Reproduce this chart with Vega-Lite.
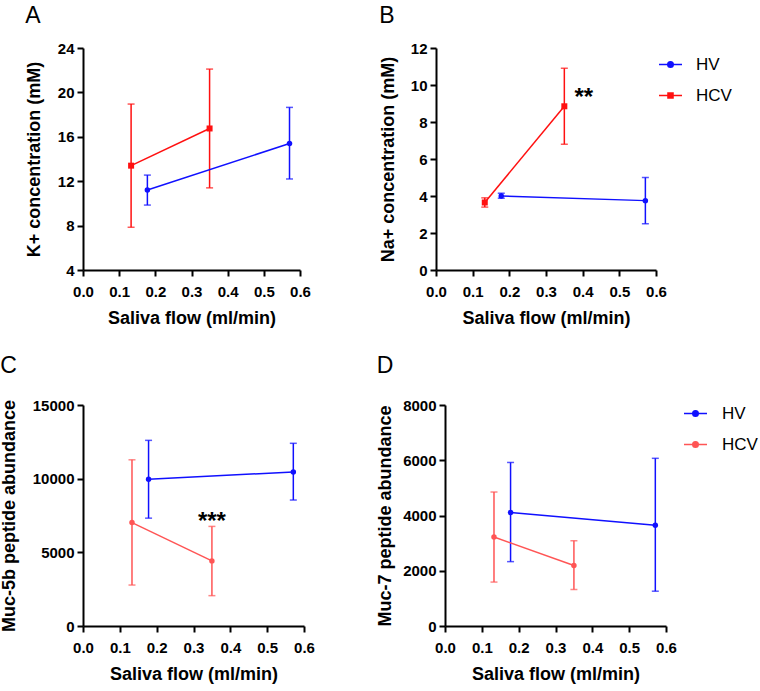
{
  "$schema": "https://vega.github.io/schema/vega-lite/v6.json",
  "background": "white",
  "padding": {"left": 0, "top": 5, "right": 5, "bottom": 5},
  "config": {
    "font": "Liberation Sans",
    "view": {"stroke": null},
    "scale": {"continuousPadding": 0},
    "axis": {"domainColor": "black", "domainWidth": 2, "tickColor": "black", "tickWidth": 2, "tickSize": 6, "labelFont": "Liberation Sans", "labelFontWeight": "bold", "labelFontSize": 15, "labelColor": "black", "labelPadding": 3, "labelOverlap": false, "labelFlush": false, "titleFont": "Liberation Sans", "titleFontSize": 18, "titleFontWeight": "bold", "titleColor": "black", "grid": false, "titlePadding": 16},
    "axisX": {"labelPadding": 8, "titlePadding": 10},
    "title": {"fontSize": 23, "fontWeight": "normal", "anchor": "start", "frame": "bounds", "font": "Liberation Sans", "color": "black", "offset": 13},
    "legend": {"labelFont": "Liberation Sans", "labelFontSize": 17, "labelColor": "black"}
  },
  "spacing": 28,
  "resolve": {"scale": {"color": "independent", "fill": "independent", "stroke": "independent", "shape": "independent"}, "legend": {"color": "independent", "fill": "independent", "stroke": "independent", "shape": "independent"}},
  "vconcat": [
    {
      "spacing": 68,
      "resolve": {"scale": {"color": "independent", "fill": "independent", "stroke": "independent", "shape": "independent"}, "legend": {"color": "independent", "fill": "independent", "stroke": "independent", "shape": "independent"}},
      "hconcat": [
        {
          "width": 217, "height": 222,
          "title": {"text": "A"},
          "data": {"values": [
            {"group": "HV", "flow": 0.178, "mean": 11.2, "lo": 9.85, "hi": 12.55},
            {"group": "HV", "flow": 0.571, "mean": 15.4, "lo": 12.2, "hi": 18.65},
            {"group": "HCV", "flow": 0.133, "mean": 13.4, "lo": 7.85, "hi": 18.95},
            {"group": "HCV", "flow": 0.35, "mean": 16.75, "lo": 11.4, "hi": 22.1}
          ]},
          "encoding": {
            "x": {"field": "flow", "type": "quantitative", "scale": {"domain": [0, 0.6], "nice": false, "padding": 0}, "axis": {"values": [0, 0.1, 0.2, 0.3, 0.4, 0.5, 0.6], "format": ".1f", "title": "Saliva flow (ml/min)"}},
            "color": {"field": "group", "type": "nominal", "scale": {"range": ["#ff1010", "#1010ff"]}, "legend": null}
          },
          "layer": [
            {"mark": {"type": "errorbar", "ticks": {"size": 7}, "thickness": 1.5}, "encoding": {"y": {"field": "lo", "type": "quantitative", "scale": {"domain": [4, 24], "nice": false}, "axis": {"values": [4, 8, 12, 16, 20, 24], "title": "K+ concentration (mM)", "titlePadding": 14}}, "y2": {"field": "hi"}}},
            {"mark": {"type": "line", "strokeWidth": 1.5}, "encoding": {"y": {"field": "mean", "type": "quantitative", "axis": {"values": [4, 8, 12, 16, 20, 24], "title": "K+ concentration (mM)", "titlePadding": 14}}}},
            {"transform": [{"filter": "datum.group === 'HV'"}], "mark": {"type": "point", "filled": true, "opacity": 1, "shape": "circle", "size": 30}, "encoding": {"y": {"field": "mean", "type": "quantitative", "axis": {"values": [4, 8, 12, 16, 20, 24], "title": "K+ concentration (mM)", "titlePadding": 14}}}},
            {"transform": [{"filter": "datum.group === 'HCV'"}], "mark": {"type": "point", "filled": true, "opacity": 1, "shape": "square", "size": 36}, "encoding": {"y": {"field": "mean", "type": "quantitative", "axis": {"values": [4, 8, 12, 16, 20, 24], "title": "K+ concentration (mM)", "titlePadding": 14}}}}
          ]
        },
        {
          "width": 220, "height": 222,
          "title": {"text": "B"},
          "data": {"values": [
            {"group": "HV", "flow": 0.178, "mean": 4.0, "lo": 3.88, "hi": 4.15},
            {"group": "HV", "flow": 0.571, "mean": 3.75, "lo": 2.5, "hi": 5.0},
            {"group": "HCV", "flow": 0.133, "mean": 3.65, "lo": 3.4, "hi": 3.9},
            {"group": "HCV", "flow": 0.35, "mean": 8.85, "lo": 6.8, "hi": 10.9}
          ]},
          "encoding": {
            "x": {"field": "flow", "type": "quantitative", "scale": {"domain": [0, 0.6], "nice": false, "padding": 0}, "axis": {"values": [0, 0.1, 0.2, 0.3, 0.4, 0.5, 0.6], "format": ".1f", "title": "Saliva flow (ml/min)"}}
          },
          "layer": [
            {"mark": {"type": "errorbar", "ticks": {"size": 7}, "thickness": 1.5}, "encoding": {"y": {"field": "lo", "type": "quantitative", "scale": {"domain": [0, 12], "nice": false}, "axis": {"values": [0, 2, 4, 6, 8, 10, 12], "title": "Na+ concentration (mM)", "titlePadding": 13}}, "y2": {"field": "hi"}, "color": {"field": "group", "type": "nominal", "scale": {"range": ["#ff1010", "#1010ff"]}, "legend": null}}},
            {"mark": {"type": "line", "strokeWidth": 1.5}, "encoding": {"y": {"field": "mean", "type": "quantitative", "axis": {"values": [0, 2, 4, 6, 8, 10, 12], "title": "Na+ concentration (mM)", "titlePadding": 13}}, "color": {"field": "group", "type": "nominal", "legend": null}}},
            {"transform": [{"filter": "datum.group === 'HV'"}], "mark": {"type": "point", "filled": true, "opacity": 1, "shape": "circle", "size": 30}, "encoding": {"y": {"field": "mean", "type": "quantitative", "axis": {"values": [0, 2, 4, 6, 8, 10, 12], "title": "Na+ concentration (mM)", "titlePadding": 13}}, "color": {"field": "group", "type": "nominal", "legend": null}}},
            {"transform": [{"filter": "datum.group === 'HCV'"}], "mark": {"type": "point", "filled": true, "opacity": 1, "shape": "square", "size": 36}, "encoding": {"y": {"field": "mean", "type": "quantitative", "axis": {"values": [0, 2, 4, 6, 8, 10, 12], "title": "Na+ concentration (mM)", "titlePadding": 13}}, "color": {"field": "group", "type": "nominal", "legend": null}}},
            {"mark": {"type": "point", "filled": true, "opacity": 0, "strokeWidth": 1.5},
             "encoding": {
               "y": {"field": "mean", "type": "quantitative", "axis": {"values": [0, 2, 4, 6, 8, 10, 12], "title": "Na+ concentration (mM)", "titlePadding": 13}},
               "fill": {"field": "group", "type": "nominal", "scale": {"domain": ["HV", "HCV"], "range": ["#1010ff", "#ff1010"]}, "legend": {"orient": "none", "legendX": 222, "legendY": 4, "title": null, "symbolSize": 529, "symbolStrokeWidth": 1.5, "symbolOpacity": 1, "rowPadding": 10, "labelOffset": 13}},
               "stroke": {"field": "group", "type": "nominal", "scale": {"domain": ["HV", "HCV"], "range": ["#1010ff", "#ff1010"]}, "legend": {"orient": "none", "legendX": 222, "legendY": 4, "title": null, "symbolSize": 529, "symbolStrokeWidth": 1.5, "symbolOpacity": 1, "rowPadding": 10, "labelOffset": 13}},
               "shape": {"field": "group", "type": "nominal", "scale": {"domain": ["HV", "HCV"], "range": ["M-1,0H1M-0.24,0A0.24,0.24 0 1,0 0.24,0A0.24,0.24 0 1,0 -0.24,0Z", "M-1,0H1M-0.22,-0.22H0.22V0.22H-0.22Z"]}, "legend": {"orient": "none", "legendX": 222, "legendY": 4, "title": null, "symbolSize": 529, "symbolStrokeWidth": 1.5, "symbolOpacity": 1, "rowPadding": 10, "labelOffset": 13}}
             }},
            {"data": {"values": [{"flow": 0.403, "val": 8.93, "label": "**"}]}, "mark": {"type": "text", "fontSize": 24, "fontWeight": "bold", "color": "black", "baseline": "alphabetic"}, "encoding": {"y": {"field": "val", "type": "quantitative", "axis": {"values": [0, 2, 4, 6, 8, 10, 12], "title": "Na+ concentration (mM)", "titlePadding": 13}}, "text": {"field": "label"}}}
          ]
        }
      ]
    },
    {
      "spacing": 61,
      "resolve": {"scale": {"color": "independent", "fill": "independent", "stroke": "independent", "shape": "independent"}, "legend": {"color": "independent", "fill": "independent", "stroke": "independent", "shape": "independent"}},
      "hconcat": [
        {
          "width": 221, "height": 221,
          "title": {"text": "C", "offset": 20},
          "data": {"values": [
            {"group": "HV", "flow": 0.178, "mean": 9960, "lo": 7320, "hi": 12600},
            {"group": "HV", "flow": 0.571, "mean": 10460, "lo": 8550, "hi": 12400},
            {"group": "HCV", "flow": 0.133, "mean": 7020, "lo": 2780, "hi": 11280},
            {"group": "HCV", "flow": 0.35, "mean": 4420, "lo": 2060, "hi": 6760}
          ]},
          "encoding": {
            "x": {"field": "flow", "type": "quantitative", "scale": {"domain": [0, 0.6], "nice": false, "padding": 0}, "axis": {"values": [0, 0.1, 0.2, 0.3, 0.4, 0.5, 0.6], "format": ".1f", "title": "Saliva flow (ml/min)"}}
          },
          "layer": [
            {"mark": {"type": "errorbar", "ticks": {"size": 7}, "thickness": 1.5}, "encoding": {"y": {"field": "lo", "type": "quantitative", "scale": {"domain": [0, 15000], "nice": false}, "axis": {"values": [0, 5000, 10000, 15000], "format": "d", "title": "Muc-5b peptide abundance", "titlePadding": 14}}, "y2": {"field": "hi"}, "color": {"field": "group", "type": "nominal", "scale": {"range": ["#ff5555", "#1010ff"]}, "legend": null}}},
            {"mark": {"type": "line", "strokeWidth": 1.5}, "encoding": {"y": {"field": "mean", "type": "quantitative", "axis": {"values": [0, 5000, 10000, 15000], "format": "d", "title": "Muc-5b peptide abundance", "titlePadding": 14}}, "color": {"field": "group", "type": "nominal", "legend": null}}},
            {"mark": {"type": "point", "filled": true, "opacity": 1, "shape": "circle", "size": 30}, "encoding": {"y": {"field": "mean", "type": "quantitative", "axis": {"values": [0, 5000, 10000, 15000], "format": "d", "title": "Muc-5b peptide abundance", "titlePadding": 14}}, "color": {"field": "group", "type": "nominal", "legend": null}}},
            {"data": {"values": [{"flow": 0.35, "val": 6570, "label": "***"}]}, "mark": {"type": "text", "fontSize": 24, "fontWeight": "bold", "color": "black", "baseline": "alphabetic"}, "encoding": {"y": {"field": "val", "type": "quantitative", "axis": {"values": [0, 5000, 10000, 15000], "format": "d", "title": "Muc-5b peptide abundance", "titlePadding": 14}}, "text": {"field": "label"}}}
          ]
        },
        {
          "width": 221, "height": 221,
          "title": {"text": "D", "offset": 20},
          "data": {"values": [
            {"group": "HV", "flow": 0.178, "mean": 4110, "lo": 2330, "hi": 5920},
            {"group": "HV", "flow": 0.571, "mean": 3650, "lo": 1260, "hi": 6070},
            {"group": "HCV", "flow": 0.133, "mean": 3220, "lo": 1590, "hi": 4850},
            {"group": "HCV", "flow": 0.35, "mean": 2190, "lo": 1320, "hi": 3090}
          ]},
          "encoding": {
            "x": {"field": "flow", "type": "quantitative", "scale": {"domain": [0, 0.6], "nice": false, "padding": 0}, "axis": {"values": [0, 0.1, 0.2, 0.3, 0.4, 0.5, 0.6], "format": ".1f", "title": "Saliva flow (ml/min)"}}
          },
          "layer": [
            {"mark": {"type": "errorbar", "ticks": {"size": 7}, "thickness": 1.5}, "encoding": {"y": {"field": "lo", "type": "quantitative", "scale": {"domain": [0, 8000], "nice": false}, "axis": {"values": [0, 2000, 4000, 6000, 8000], "format": "d", "title": "Muc-7 peptide abundance", "titlePadding": 8}}, "y2": {"field": "hi"}, "color": {"field": "group", "type": "nominal", "scale": {"range": ["#ff5555", "#1010ff"]}, "legend": null}}},
            {"mark": {"type": "line", "strokeWidth": 1.5}, "encoding": {"y": {"field": "mean", "type": "quantitative", "axis": {"values": [0, 2000, 4000, 6000, 8000], "format": "d", "title": "Muc-7 peptide abundance", "titlePadding": 8}}, "color": {"field": "group", "type": "nominal", "legend": null}}},
            {"mark": {"type": "point", "filled": true, "opacity": 1, "shape": "circle", "size": 30}, "encoding": {"y": {"field": "mean", "type": "quantitative", "axis": {"values": [0, 2000, 4000, 6000, 8000], "format": "d", "title": "Muc-7 peptide abundance", "titlePadding": 8}}, "color": {"field": "group", "type": "nominal", "legend": null}}},
            {"mark": {"type": "point", "filled": true, "opacity": 0, "strokeWidth": 1.5},
             "encoding": {
               "y": {"field": "mean", "type": "quantitative", "axis": {"values": [0, 2000, 4000, 6000, 8000], "format": "d", "title": "Muc-7 peptide abundance", "titlePadding": 8}},
               "fill": {"field": "group", "type": "nominal", "scale": {"domain": ["HV", "HCV"], "range": ["#1010ff", "#ff5555"]}, "legend": {"orient": "none", "legendX": 238, "legendY": -4, "title": null, "symbolSize": 529, "symbolStrokeWidth": 1.5, "symbolOpacity": 1, "rowPadding": 10, "labelOffset": 14}},
               "stroke": {"field": "group", "type": "nominal", "scale": {"domain": ["HV", "HCV"], "range": ["#1010ff", "#ff5555"]}, "legend": {"orient": "none", "legendX": 238, "legendY": -4, "title": null, "symbolSize": 529, "symbolStrokeWidth": 1.5, "symbolOpacity": 1, "rowPadding": 10, "labelOffset": 14}},
               "shape": {"field": "group", "type": "nominal", "scale": {"domain": ["HV", "HCV"], "range": ["M-1,0H1M-0.24,0A0.24,0.24 0 1,0 0.24,0A0.24,0.24 0 1,0 -0.24,0Z", "M-1,0H1M-0.24,0A0.24,0.24 0 1,0 0.24,0A0.24,0.24 0 1,0 -0.24,0Z"]}, "legend": {"orient": "none", "legendX": 238, "legendY": -4, "title": null, "symbolSize": 529, "symbolStrokeWidth": 1.5, "symbolOpacity": 1, "rowPadding": 10, "labelOffset": 14}}
             }}
          ]
        }
      ]
    }
  ]
}
